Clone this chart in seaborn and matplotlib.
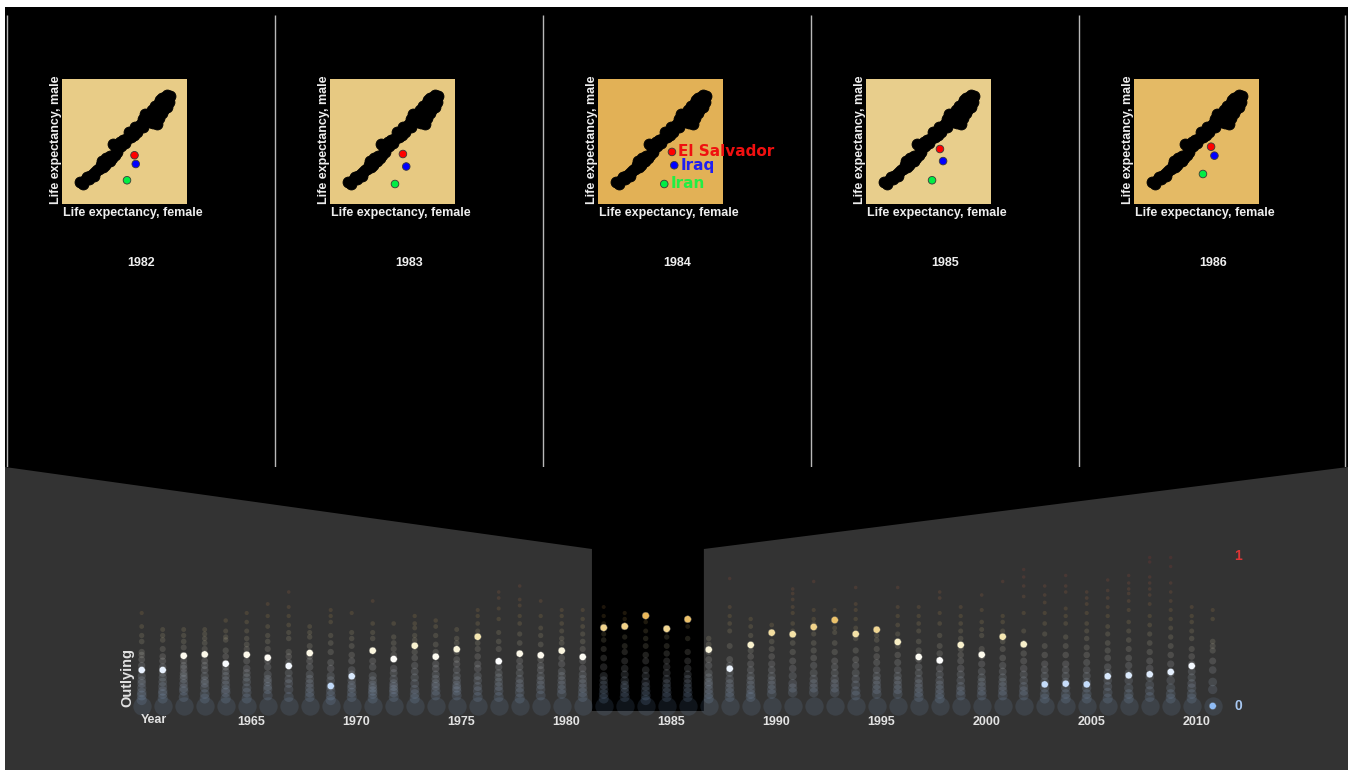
import numpy as np
import pandas as pd
import matplotlib
matplotlib.use("Agg")
import matplotlib.pyplot as plt
import seaborn as sns
from matplotlib.colors import LinearSegmentedColormap
from matplotlib.patches import Polygon

# ---------------- data ----------------
years = list(range(1960, 2012))
outlying_scores = [0.24, 0.24, 0.335, 0.344, 0.282, 0.342, 0.322, 0.267, 0.353, 0.133,
                   0.198, 0.369, 0.313, 0.402, 0.329, 0.378, 0.462, 0.298, 0.349, 0.338,
                   0.369, 0.327, 0.522, 0.531, 0.602, 0.515, 0.578, 0.376, 0.249, 0.407,
                   0.489, 0.478, 0.527, 0.573, 0.48, 0.509, 0.427, 0.327, 0.304, 0.407,
                   0.342, 0.462, 0.411, 0.144, 0.149, 0.144, 0.198, 0.204, 0.211, 0.227,
                   0.267, 0.0]
base_scores = [0.0] * len(years)
background_scores = [
    [0.62, 0.53, 0.47, 0.43, 0.36, 0.34, 0.31, 0.27, 0.2, 0.17, 0.15, 0.12, 0.09, 0.07, 0.04],
    [0.51, 0.47, 0.44, 0.38, 0.33, 0.3, 0.26, 0.22, 0.19, 0.16, 0.13, 0.1, 0.08, 0.05],
    [0.51, 0.47, 0.43, 0.39, 0.3, 0.27, 0.25, 0.22, 0.2, 0.18, 0.15, 0.12, 0.1, 0.06],
    [0.51, 0.48, 0.45, 0.42, 0.38, 0.3, 0.27, 0.24, 0.2, 0.17, 0.15, 0.12, 0.08, 0.05],
    [0.57, 0.5, 0.46, 0.44, 0.37, 0.33, 0.26, 0.23, 0.2, 0.17, 0.14, 0.11, 0.09, 0.05],
    [0.62, 0.56, 0.5, 0.45, 0.41, 0.38, 0.3, 0.25, 0.22, 0.19, 0.16, 0.12, 0.09, 0.05],
    [0.68, 0.6, 0.53, 0.47, 0.43, 0.38, 0.3, 0.26, 0.21, 0.18, 0.16, 0.13, 0.11, 0.07],
    [0.76, 0.66, 0.6, 0.54, 0.49, 0.45, 0.36, 0.33, 0.29, 0.22, 0.18, 0.15, 0.11, 0.06],
    [0.53, 0.49, 0.46, 0.4, 0.33, 0.3, 0.26, 0.21, 0.18, 0.15, 0.12, 0.09, 0.06],
    [0.64, 0.6, 0.56, 0.47, 0.42, 0.36, 0.29, 0.25, 0.2, 0.17, 0.13, 0.1, 0.07, 0.04],
    [0.62, 0.49, 0.45, 0.4, 0.34, 0.3, 0.24, 0.21, 0.17, 0.14, 0.12, 0.09, 0.06],
    [0.7, 0.55, 0.49, 0.45, 0.3, 0.26, 0.2, 0.17, 0.14, 0.12, 0.1, 0.08, 0.05],
    [0.55, 0.46, 0.42, 0.38, 0.34, 0.25, 0.22, 0.18, 0.15, 0.13, 0.11, 0.09, 0.06],
    [0.6, 0.55, 0.52, 0.47, 0.44, 0.36, 0.32, 0.27, 0.23, 0.19, 0.15, 0.11, 0.08, 0.05],
    [0.57, 0.53, 0.47, 0.41, 0.36, 0.28, 0.25, 0.21, 0.18, 0.15, 0.13, 0.1, 0.07],
    [0.51, 0.45, 0.42, 0.36, 0.31, 0.28, 0.24, 0.2, 0.17, 0.14, 0.12, 0.1, 0.07],
    [0.64, 0.6, 0.55, 0.5, 0.42, 0.38, 0.33, 0.28, 0.25, 0.2, 0.17, 0.13, 0.1, 0.06],
    [0.76, 0.72, 0.65, 0.58, 0.49, 0.43, 0.38, 0.26, 0.22, 0.19, 0.16, 0.13, 0.1, 0.06],
    [0.8, 0.71, 0.67, 0.6, 0.55, 0.48, 0.42, 0.3, 0.26, 0.22, 0.18, 0.15, 0.12, 0.09, 0.05],
    [0.7, 0.6, 0.52, 0.47, 0.41, 0.31, 0.27, 0.24, 0.2, 0.17, 0.14, 0.11, 0.07],
    [0.64, 0.6, 0.55, 0.5, 0.45, 0.42, 0.32, 0.28, 0.23, 0.2, 0.17, 0.14, 0.11, 0.08],
    [0.64, 0.58, 0.53, 0.48, 0.43, 0.38, 0.3, 0.25, 0.21, 0.18, 0.15, 0.12, 0.09, 0.06],
    [0.66, 0.6, 0.55, 0.48, 0.44, 0.38, 0.32, 0.26, 0.2, 0.17, 0.14, 0.11, 0.08, 0.05],
    [0.62, 0.58, 0.46, 0.4, 0.36, 0.3, 0.25, 0.21, 0.17, 0.14, 0.12, 0.09, 0.06],
    [0.56, 0.5, 0.45, 0.4, 0.34, 0.3, 0.24, 0.2, 0.16, 0.13, 0.1, 0.07, 0.04],
    [0.5, 0.46, 0.4, 0.35, 0.3, 0.26, 0.22, 0.18, 0.15, 0.12, 0.09, 0.06],
    [0.58, 0.53, 0.45, 0.36, 0.3, 0.25, 0.21, 0.18, 0.15, 0.12, 0.09, 0.06],
    [0.45, 0.41, 0.36, 0.31, 0.27, 0.22, 0.19, 0.16, 0.14, 0.11, 0.08, 0.05],
    [0.85, 0.66, 0.6, 0.55, 0.5, 0.4, 0.31, 0.27, 0.22, 0.18, 0.15, 0.12, 0.09, 0.06],
    [0.58, 0.53, 0.47, 0.37, 0.33, 0.28, 0.24, 0.2, 0.17, 0.14, 0.11, 0.08, 0.06],
    [0.54, 0.48, 0.43, 0.38, 0.33, 0.28, 0.24, 0.2, 0.17, 0.14, 0.11, 0.08],
    [0.78, 0.75, 0.71, 0.66, 0.62, 0.55, 0.5, 0.42, 0.36, 0.3, 0.25, 0.2, 0.15, 0.12, 0.09],
    [0.83, 0.64, 0.58, 0.55, 0.48, 0.42, 0.37, 0.32, 0.27, 0.22, 0.18, 0.15, 0.12, 0.09],
    [0.64, 0.58, 0.52, 0.49, 0.42, 0.36, 0.3, 0.26, 0.22, 0.18, 0.15, 0.12, 0.09],
    [0.79, 0.68, 0.64, 0.58, 0.52, 0.45, 0.37, 0.31, 0.27, 0.22, 0.18, 0.14, 0.1, 0.07],
    [0.51, 0.47, 0.44, 0.38, 0.33, 0.29, 0.24, 0.2, 0.17, 0.14, 0.11, 0.08],
    [0.79, 0.66, 0.6, 0.54, 0.48, 0.4, 0.34, 0.29, 0.24, 0.2, 0.17, 0.14, 0.11, 0.08],
    [0.66, 0.6, 0.55, 0.5, 0.43, 0.37, 0.31, 0.26, 0.22, 0.18, 0.15, 0.12, 0.09, 0.06],
    [0.76, 0.72, 0.62, 0.55, 0.47, 0.4, 0.35, 0.3, 0.25, 0.21, 0.17, 0.14, 0.11, 0.08, 0.05],
    [0.66, 0.6, 0.55, 0.5, 0.45, 0.38, 0.34, 0.3, 0.25, 0.21, 0.17, 0.13, 0.1, 0.07],
    [0.74, 0.64, 0.56, 0.51, 0.47, 0.38, 0.33, 0.28, 0.23, 0.19, 0.16, 0.13, 0.1, 0.07],
    [0.83, 0.6, 0.56, 0.5, 0.43, 0.38, 0.32, 0.27, 0.23, 0.19, 0.16, 0.13, 0.1, 0.07],
    [0.91, 0.86, 0.8, 0.73, 0.62, 0.5, 0.42, 0.35, 0.3, 0.25, 0.21, 0.17, 0.13, 0.1, 0.07],
    [0.8, 0.74, 0.69, 0.62, 0.55, 0.48, 0.4, 0.34, 0.28, 0.24, 0.2, 0.16, 0.12, 0.08, 0.05],
    [0.87, 0.8, 0.76, 0.65, 0.6, 0.55, 0.46, 0.4, 0.34, 0.28, 0.24, 0.2, 0.16, 0.12, 0.08, 0.05],
    [0.76, 0.72, 0.68, 0.62, 0.55, 0.5, 0.45, 0.39, 0.34, 0.29, 0.24, 0.2, 0.16, 0.12, 0.08, 0.05],
    [0.84, 0.77, 0.72, 0.66, 0.6, 0.53, 0.48, 0.42, 0.37, 0.32, 0.26, 0.22, 0.17, 0.13, 0.09, 0.05],
    [0.87, 0.82, 0.78, 0.75, 0.7, 0.64, 0.56, 0.5, 0.44, 0.38, 0.32, 0.27, 0.22, 0.17, 0.12, 0.08, 0.05],
    [0.99, 0.96, 0.86, 0.82, 0.78, 0.74, 0.68, 0.6, 0.54, 0.48, 0.42, 0.36, 0.3, 0.25, 0.19, 0.14, 0.1, 0.06],
    [0.99, 0.93, 0.82, 0.76, 0.7, 0.64, 0.58, 0.52, 0.46, 0.4, 0.34, 0.28, 0.22, 0.17, 0.12, 0.08, 0.05],
    [0.66, 0.6, 0.56, 0.5, 0.45, 0.38, 0.33, 0.28, 0.23, 0.19, 0.15, 0.12, 0.08, 0.05],
    [0.64, 0.58, 0.43, 0.4, 0.37, 0.3, 0.24, 0.16, 0.11],
]
tick_years = [1965, 1970, 1975, 1980, 1985, 1990, 1995, 2000, 2005, 2010]

panel_years = [1982, 1983, 1984, 1985, 1986]
others_female = [38.6, 40.2, 41.5, 43.0, 43.5, 44.8, 46.0, 46.6, 47.8, 49.0, 49.5, 50.6, 51.5,
                 52.8, 53.8, 54.6, 55.2, 56.5, 57.0, 58.2, 59.5, 60.2, 61.6, 62.6, 63.8, 64.5,
                 65.8, 66.8, 67.5, 68.2, 69.5, 70.6, 71.2, 72.2, 73.0, 73.8, 74.6, 75.4, 75.8,
                 76.6, 77.0, 77.8, 78.5, 79.4, 80.2, 80.8, 81.8, 79.0, 76.2, 72.8, 70.0, 78.8,
                 74.0, 42.0, 45.5, 48.5, 51.0, 53.0, 55.8, 58.0, 60.8, 62.0, 63.2, 65.0, 66.2,
                 68.8, 69.0, 71.8, 72.5, 74.2, 75.0, 76.8, 77.5, 78.2, 79.8, 80.5, 81.2, 73.5,
                 76.5]
others_male = [35.7, 34.6, 36.8, 37.2, 38.6, 39.2, 40.2, 41.2, 42.0, 45.6, 43.0, 43.8, 45.0,
               45.8, 47.0, 54.0, 48.5, 50.0, 52.0, 52.8, 55.8, 54.5, 56.6, 58.0, 58.8, 58.0,
               60.5, 61.8, 62.8, 63.8, 64.8, 66.9, 65.5, 64.5, 70.0, 68.6, 72.0, 63.5, 71.0,
               73.5, 74.9, 68.5, 73.8, 76.3, 71.7, 75.5, 76.8, 74.0, 70.0, 67.5, 68.2, 70.5,
               65.5, 38.0, 38.5, 43.8, 47.0, 48.0, 51.5, 55.0, 56.0, 59.5, 57.0, 62.0, 59.5,
               62.0, 66.0, 68.0, 66.0, 70.5, 68.0, 71.5, 72.5, 75.8, 73.2, 77.2, 74.0, 64.0,
               66.5]
countries = ["El Salvador", "Iraq", "Iran"]
country_female = [[64.8, 65.4, 61.2], [65.0, 66.6, 61.2], [65.5, 66.6, 61.8],
                  [65.5, 67.0, 61.7], [67.0, 68.6, 63.1]]
country_male = [[48.4, 44.2, 36.4], [49.0, 43.0, 34.6], [50.0, 43.6, 34.6],
                [51.4, 45.6, 36.4], [52.5, 48.2, 39.4]]
country_colors = {"El Salvador": "#ff0000", "Iraq": "#0000ff", "Iran": "#00ee44"}
label_colors = {"El Salvador": "#f01010", "Iraq": "#2020f0", "Iran": "#22ee44"}
labelled_year = 1984

# ---------------- style ----------------
plt.rcParams["font.family"] = ["Liberation Sans", "DejaVu Sans"]
cmap = LinearSegmentedColormap.from_list(
    "outly", [(0.0, "#8fbcf5"), (0.3, "#ffffff"), (0.45, "#f6ebb9"),
              (0.6, "#eab95a"), (1.0, "#d83030")])

W, H = 1351, 770
fig = plt.figure(figsize=(W / 100, H / 100), dpi=100, facecolor="white")


def fbox(x0, y0, x1, y1):
    return [x0 / W, 1 - y1 / H, (x1 - x0) / W, (y1 - y0) / H]


def clean(ax):
    ax.set_xticks([])
    ax.set_yticks([])
    ax.set_xlabel("")
    ax.set_ylabel("")
    for s in ax.spines.values():
        s.set_visible(False)


# ---------------- top black area ----------------
top = fig.add_axes(fbox(5, 7, 1348, 467))
top.set_facecolor("black")
top.set_xlim(5, 1348)
top.set_ylim(467, 7)
clean(top)
panel_w = 268
panel_left0 = 7
seps = [panel_left0 + panel_w * i for i in range(6)]
seps[-1] = 1345
top.vlines(seps, 15, 467, color="#b8b8b8", lw=1)

score_by_year = dict(zip(years, outlying_scores))
for i, yr in enumerate(panel_years):
    pl = panel_left0 + panel_w * i
    ax = fig.add_axes(fbox(pl + 55, 79, pl + 180, 204))
    fc = np.array(cmap(score_by_year[yr])[:3]) * 0.965
    ax.set_facecolor(fc)
    sns.scatterplot(x=others_female, y=others_male, color="black", s=62,
                    edgecolor="black", linewidth=0.6, legend=False, ax=ax)
    cdf = pd.DataFrame({"female": country_female[i], "male": country_male[i],
                        "country": countries})
    sns.scatterplot(data=cdf, x="female", y="male", hue="country",
                    palette=country_colors, s=30, edgecolor="#3a3a3a",
                    linewidth=0.6, legend=False, ax=ax, zorder=3)
    ax.set_xlim(30, 90)
    ax.set_ylim(25, 85)
    clean(ax)
    if yr == labelled_year:
        for _, r in cdf.iterrows():
            ax.annotate(r["country"], (r["female"], r["male"]), xytext=(4.5, 0),
                        textcoords="offset points", ha="left", va="center",
                        color=label_colors[r["country"]], fontsize=11,
                        fontweight="bold", family="DejaVu Sans",
                        annotation_clip=False, zorder=4)
    ax.text(0.008, -0.075, "Life expectancy, female", transform=ax.transAxes,
            ha="left", va="center", color="#eeeeee", fontsize=9, fontweight="bold")
    ax.text(-0.052, 0.0, "Life expectancy, male", transform=ax.transAxes,
            rotation=90, ha="center", va="bottom", color="#eeeeee",
            fontsize=9, fontweight="bold")
    fig.text((pl + panel_w / 2) / W, 1 - 263 / H, str(yr), ha="center",
             va="center", color="#eeeeee", fontsize=9, fontweight="bold")

# ---------------- bottom grey area ----------------
bot = fig.add_axes(fbox(5, 467, 1348, 770))
bot.set_facecolor("#333333")
x_per_px = 1 / 21.0
x0 = 1960 + (5 - 141.7) * x_per_px
x1 = 1960 + (1348 - 141.7) * x_per_px
y_lo = (706 - 770) / 150.0
y_hi = (706 - 467) / 150.0
bot.set_xlim(x0, x1)
bot.set_ylim(y_lo, y_hi)

win_l = panel_years[0] - 0.56
win_r = panel_years[-1] + 0.77
win_top = (706 - 549) / 150.0
win_bot = (706 - 711) / 150.0
funnel = Polygon([(x0, y_hi), (win_l, win_top), (win_l, win_bot), (win_r, win_bot),
                  (win_r, win_top), (x1, y_hi)], closed=True,
                 facecolor="black", edgecolor="none", zorder=0.5)
bot.add_patch(funnel)

# base circles at score 0
sns.scatterplot(x=years, y=base_scores, color=cmap(0.0), s=175, alpha=0.11,
                linewidth=0, legend=False, ax=bot, zorder=1)

bg_rows = []
for yr, vals in zip(years, background_scores):
    for v in vals:
        bg_rows.append((yr, v))
bg = pd.DataFrame(bg_rows, columns=["year", "score"])
bg["sz"] = 6 + 55 * (1 - bg["score"]) ** 3
sns.scatterplot(data=bg, x="year", y="score", hue="score", palette=cmap,
                hue_norm=(0, 1), size="sz", sizes=(bg["sz"].min(), bg["sz"].max()),
                size_norm=(bg["sz"].min(), bg["sz"].max()), alpha=0.13,
                linewidth=0, legend=False, ax=bot, zorder=2)

hl = pd.DataFrame({"year": years, "score": outlying_scores})
sns.scatterplot(data=hl, x="year", y="score", hue="score", palette=cmap,
                hue_norm=(0, 1), s=26, linewidth=0.3, edgecolor="#555555",
                legend=False, ax=bot, zorder=3)
clean(bot)

lab_y = (706 - 722) / 150.0
for t in tick_years:
    bot.text(t + 0.21, lab_y, str(t), ha="center", va="center",
             color="#e2e2e2", fontsize=9, fontweight="bold")
bot.text(1960 - 0.02, (706 - 720) / 150.0, "Year", ha="left", va="center",
         color="#e2e2e2", fontsize=9, fontweight="bold")
bot.text(1960 + (127 - 141.7) * x_per_px, (706 - 707) / 150.0, "Outlying",
         rotation=90, ha="center", va="bottom", color="#e2e2e2",
         fontsize=10.5, fontweight="bold")
lab_x = 1960 + (1238 - 141.7) * x_per_px
bot.text(lab_x, 1.0, "1", ha="center", va="center", color="#dd3535",
         fontsize=10, fontweight="bold")
bot.text(lab_x, 0.0, "0", ha="center", va="center", color="#a8c8f2",
         fontsize=10, fontweight="bold")

fig.savefig("out.png", dpi=100, facecolor="white")
